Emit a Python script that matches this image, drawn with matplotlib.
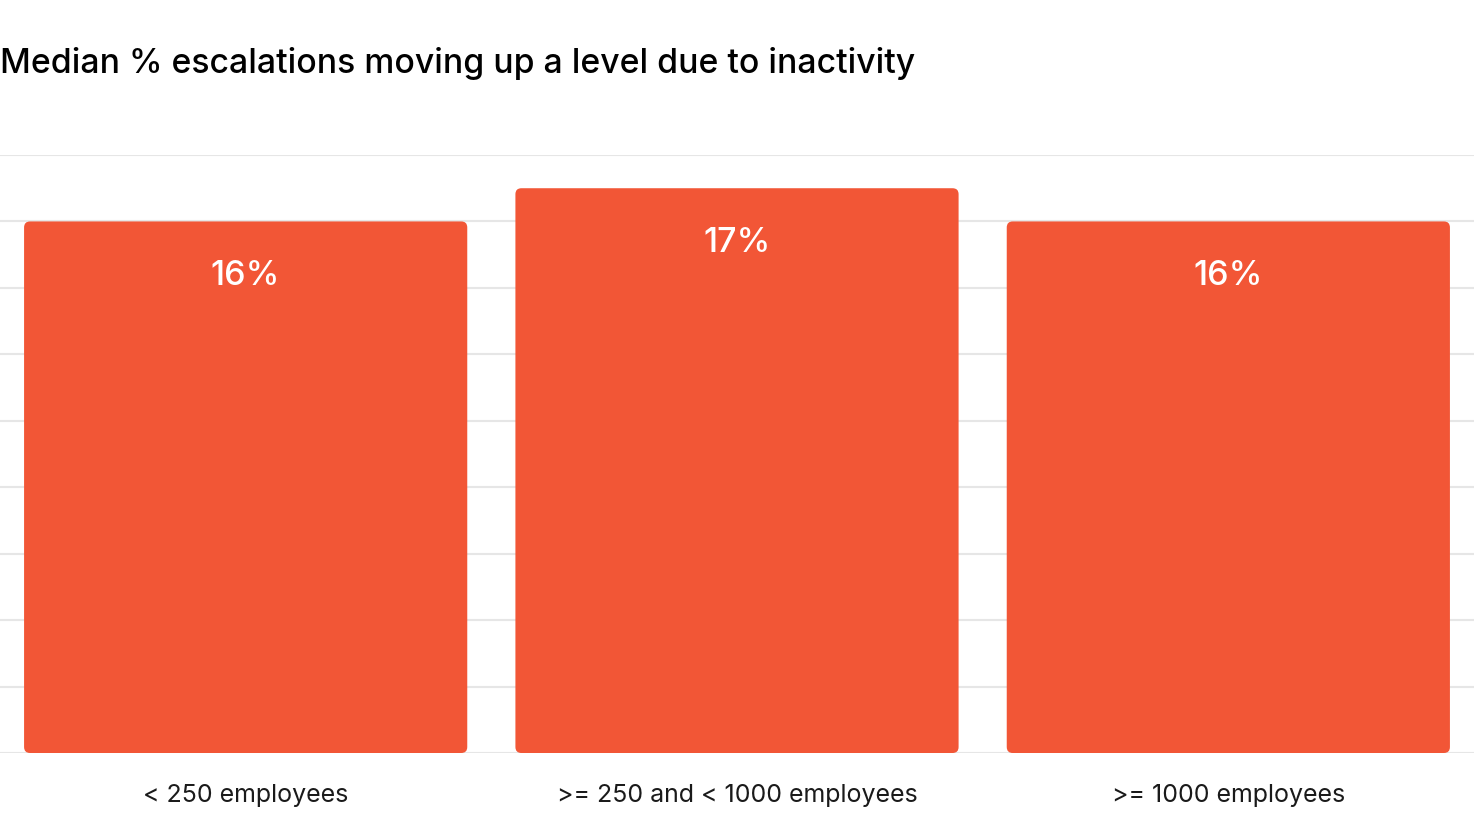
import matplotlib
matplotlib.use("Agg")
import matplotlib.pyplot as plt
from matplotlib.patches import FancyBboxPatch

categories = ["< 250 employees", ">= 250 and < 1000 employees", ">= 1000 employees"]
values = [16, 17, 16]
labels = ["16%", "17%", "16%"]
title = "Median % escalations moving up a level due to inactivity"

BAR_COLOR = "#F25636"
GRID_COLOR = "#E6E6E6"

plt.rcParams['font.family'] = ['Inter', 'DejaVu Sans']

W, H = 1474, 814
fig = plt.figure(figsize=(W/100, H/100), dpi=100)
ax = fig.add_axes([0, 1-753/H, 1, (753-155)/H])

x = list(range(len(categories)))
bars = ax.bar(x, values, width=0.902, color=BAR_COLOR, zorder=2)
ax.set_xlim(-0.5, 2.5)
ax.set_ylim(0, 18)

# replace with rounded bars
px_per_x = W / 3.0
px_per_y = (753-155) / 18.0
r_px = 6
for b in bars:
    b.set_visible(False)
    p = FancyBboxPatch((b.get_x(), b.get_y()), b.get_width(), b.get_height(),
                       boxstyle=f"round,pad=0,rounding_size={r_px/px_per_x}",
                       mutation_aspect=px_per_x/px_per_y,
                       facecolor=BAR_COLOR, edgecolor='none', zorder=2)
    ax.add_patch(p)

for xi, v, lab in zip(x, values, labels):
    ax.annotate(lab, (xi, v), xytext=(0, -55*0.72), textcoords='offset points',
                ha='center', va='center', color='white', fontsize=24.5, fontweight='medium')

ax.set_yticks(range(0, 19, 2))
ax.yaxis.grid(True, color=GRID_COLOR, linewidth=1.5, zorder=0)
ax.set_axisbelow(True)
ax.tick_params(axis='y', left=False, labelleft=False)
ax.set_xticks(x)
ax.set_xticklabels(categories, fontsize=18, color='#1a1a1a')
ax.tick_params(axis='x', length=0, pad=22.5)
for s in ax.spines.values():
    s.set_visible(False)

fig.text(0.0, 1-73/H, title, ha='left', va='baseline', fontsize=24.3, fontweight='medium', color='black')

fig.savefig("out.png", dpi=100)
